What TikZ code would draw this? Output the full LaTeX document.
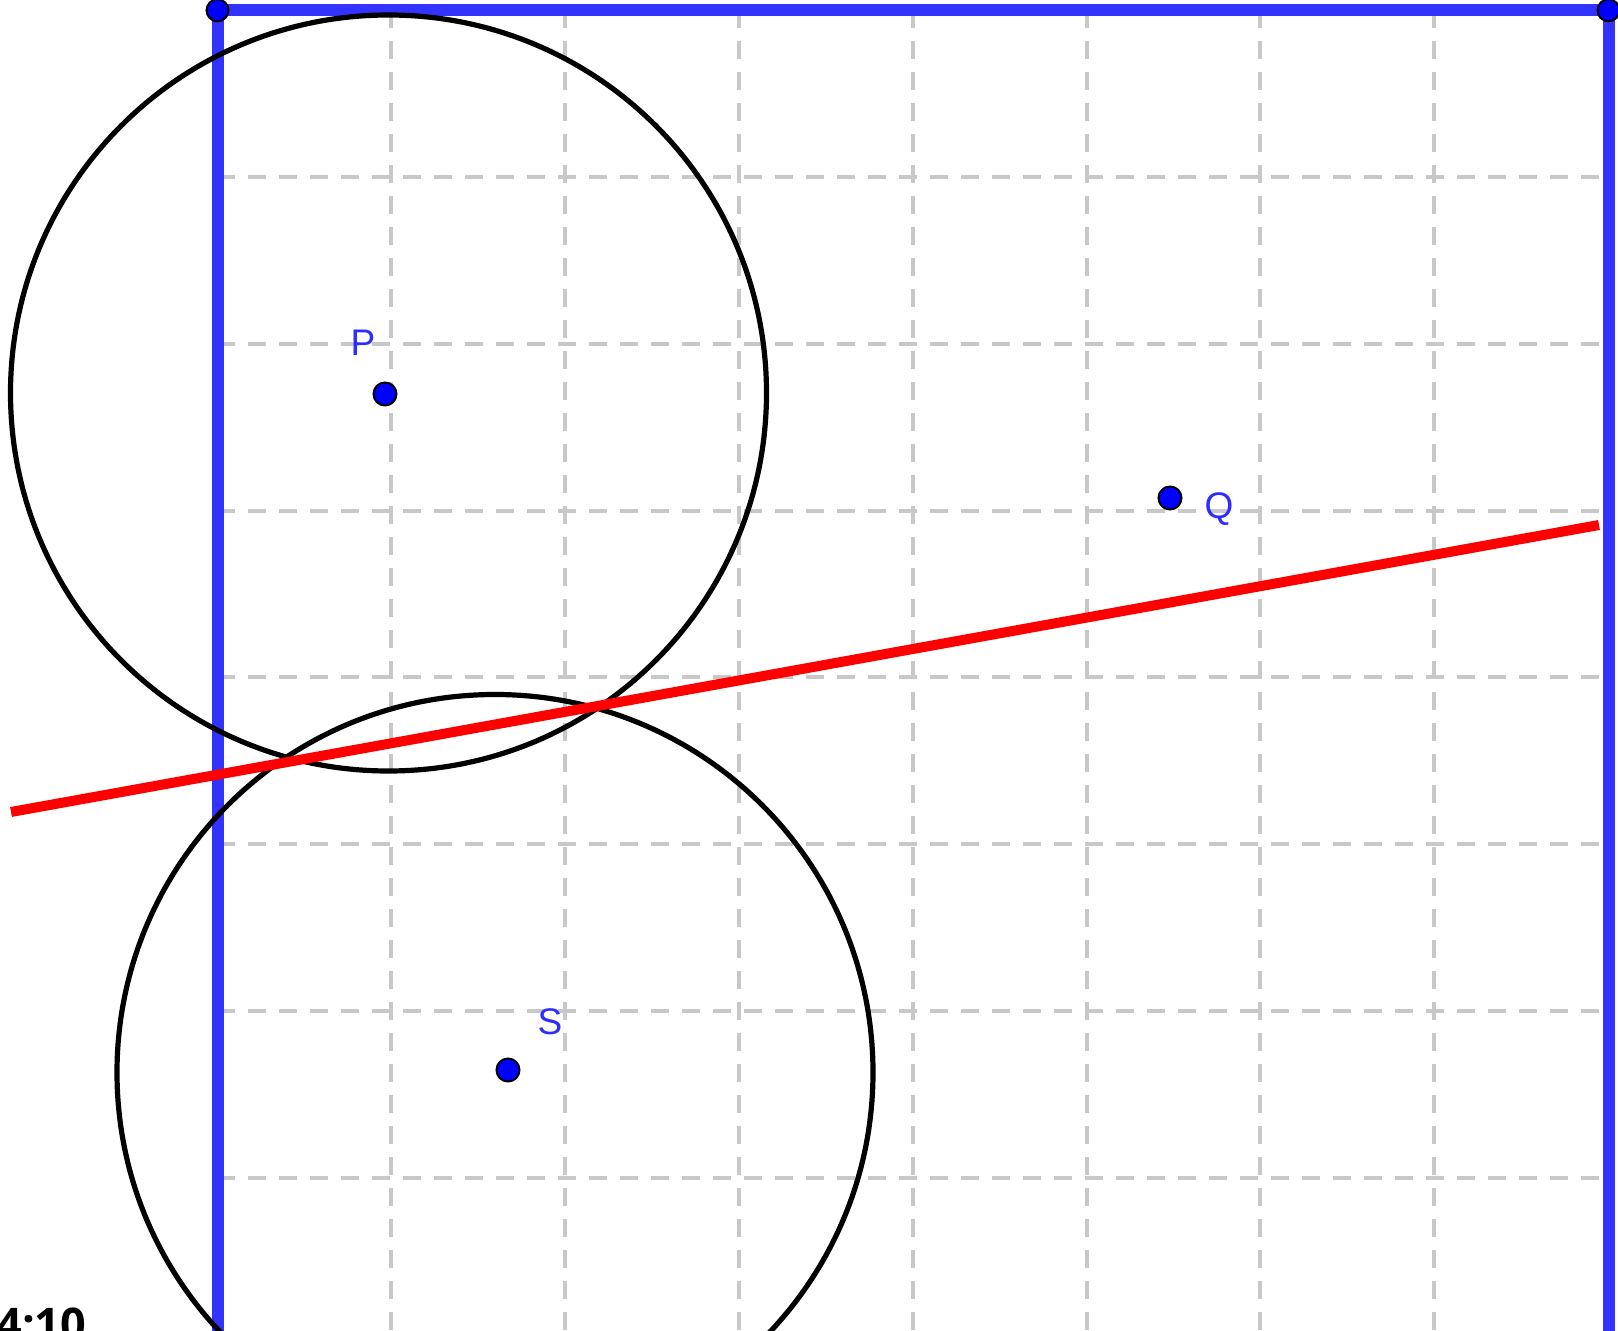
\documentclass[tikz,border=0pt]{standalone}
\usepackage{fontspec}
\setmainfont{Liberation Sans}
\newfontfamily\timefont{Open Sans}
\definecolor{gridgray}{RGB}{200,200,200}
\definecolor{framecol}{RGB}{51,51,255}
\definecolor{labelcol}{RGB}{45,45,255}
\definecolor{linered}{RGB}{255,0,0}
\begin{document}
\begin{tikzpicture}[x=0.5pt,y=-0.5pt,
  gridline/.style={draw=gridgray,line width=2pt,dash pattern=on 9pt off 6.5pt},
  frameline/.style={draw=framecol,line width=6pt},
  circline/.style={draw=black,line width=2.6pt},
  redline/.style={draw=linered,line width=5pt},
  pt/.style={circle,fill=blue,draw=black,line width=1pt,inner sep=0pt,minimum size=11.5pt},
  lbl/.style={text=labelcol,inner sep=0pt,font=\fontsize{18.5}{20}\selectfont}]
\useasboundingbox (0,0) rectangle (1618,1331);
\begin{scope}
\clip (0,0) rectangle (1618,1331);
% grid
\foreach \i in {1,...,7} {
  \draw[gridline] ({217+173.9*\i},10.3) -- ({217+173.9*\i},1340);
}
\foreach \j in {1,...,7} {
  \draw[gridline] (217,{10.3+166.8*\j}) -- (1608,{10.3+166.8*\j});
}
% frame
\coordinate (A) at (217.5,10.3);
\coordinate (B) at (1608.5,10.3);
\coordinate (Abot) at (217.5,1345);
\coordinate (Bbot) at (1608.5,1345);
\draw[frameline] (Abot) -- (A) -- (B) -- (Bbot);
% circles
\coordinate (cP) at (388.5,393);
\coordinate (cS) at (495,1072.5);
\draw[circline] (cP) circle[radius=378];
\draw[circline] (cS) circle[radius=378];
% red line
\coordinate (r1) at (11,812);
\coordinate (r2) at (1599,525);
\draw[redline] (r1) -- (r2);
% corner points
\node[pt,minimum size=11pt] (cA) at (A) {};
\node[pt,minimum size=11pt] (cB) at (B) {};
% points
\node[pt] (P) at (385,394) {};
\node[pt] (Q) at (1170,498) {};
\node[pt] (S) at (508,1070) {};
\node[lbl] (Pl) at (363,343) {P};
\node[lbl] (Ql) at (1219,509) {Q};
\node[lbl] (Sl) at (550,1022) {S};
% time
\node[anchor=base west,inner sep=0pt,font=\timefont\bfseries\fontsize{22.5}{24}\selectfont] (t) at (-4,1340) {4:10};
\end{scope}
\end{tikzpicture}
\end{document}
